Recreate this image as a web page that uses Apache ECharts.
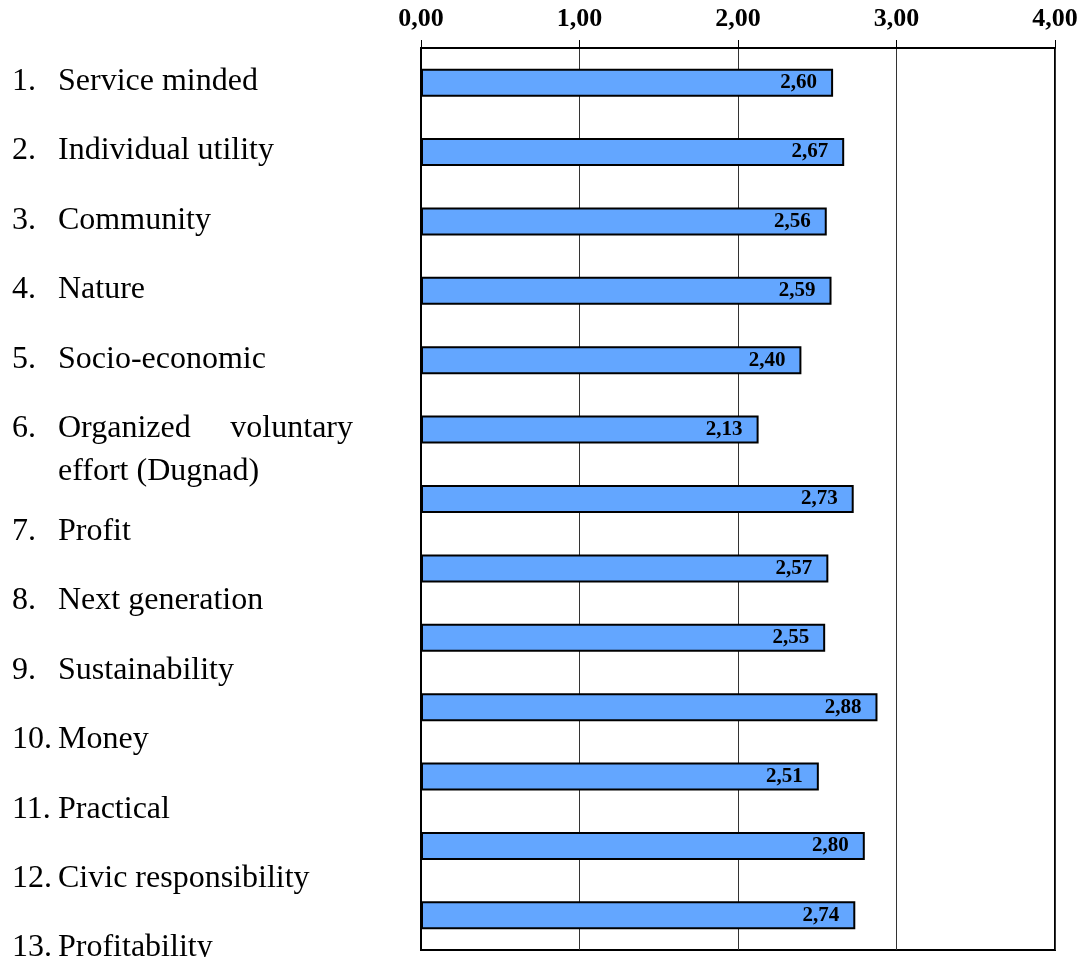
<!DOCTYPE html>
<html>
<head>
<meta charset="utf-8">
<script src="https://cdn.jsdelivr.net/npm/echarts@6/dist/echarts.min.js"></script>
<style>
  html, body { margin: 0; padding: 0; background: #fff; }
  #chart { width: 1081px; height: 957px; }
</style>
</head>
<body>
<div id="chart"></div>
<script>
// Item names, listed in the order they appear
const categories = [
  'Service minded',
  'Individual utility',
  'Community',
  'Nature',
  'Socio-economic',
  'Organized voluntary effort (Dugnad)',
  'Profit',
  'Next generation',
  'Sustainability',
  'Money',
  'Practical',
  'Civic responsibility',
  'Profitability'
];

// Mean score per item
const scores = [2.60, 2.67, 2.56, 2.59, 2.40, 2.13, 2.73, 2.57, 2.55, 2.88, 2.51, 2.80, 2.74];

// Value axis ticks
const axisMin = 0;
const axisMax = 4;
const axisStep = 1;

const fmt = v => v.toFixed(2).replace('.', ',');
const serif = '"Liberation Serif", "Times New Roman", serif';

// Numbered list beside the chart
const listFont = 'normal 32px ' + serif;
const listGraphics = [];
const numX = 12, textX = 58, wrapRight = 353;
const firstLine = 81.5, lineStep = 69.4, innerLine = 43, extraAfterWrap = 33.6;
let wrapped = false;
categories.forEach((name, i) => {
  const y = firstLine + i * lineStep + (wrapped ? extraAfterWrap : 0);
  listGraphics.push({
    type: 'text', x: numX, y: y,
    style: { text: (i + 1) + '.', font: listFont, fill: '#000', verticalAlign: 'middle' }
  });
  const words = name.split(' ');
  if (name.length > 24) {
    // justified first line, remainder on the next line
    listGraphics.push({
      type: 'text', x: textX, y: y,
      style: { text: words[0], font: listFont, fill: '#000', verticalAlign: 'middle' }
    });
    listGraphics.push({
      type: 'text', x: wrapRight, y: y,
      style: { text: words[1], font: listFont, fill: '#000', align: 'right', verticalAlign: 'middle' }
    });
    listGraphics.push({
      type: 'text', x: textX, y: y + innerLine,
      style: { text: words.slice(2).join(' '), font: listFont, fill: '#000', verticalAlign: 'middle' }
    });
    wrapped = true;
  } else {
    listGraphics.push({
      type: 'text', x: textX, y: y,
      style: { text: name, font: listFont, fill: '#000', verticalAlign: 'middle' }
    });
  }
});

const chart = echarts.init(document.getElementById('chart'), null, { renderer: 'canvas' });
chart.setOption({
  animation: false,
  backgroundColor: '#fff',
  grid: {
    left: 421, right: 26, top: 48, bottom: 7,
    show: true, borderColor: '#000', borderWidth: 2, backgroundColor: 'transparent'
  },
  xAxis: {
    type: 'value', position: 'top',
    min: axisMin, max: axisMax, interval: axisStep,
    axisLine: { show: true, lineStyle: { color: '#000', width: 2 } },
    axisTick: { show: true, length: 8, lineStyle: { color: '#000', width: 1 } },
    axisLabel: {
      formatter: v => fmt(v), margin: 16,
      fontFamily: serif, fontWeight: 'bold', fontSize: 26, color: '#000'
    },
    splitLine: { show: true, lineStyle: { color: '#333', width: 1 } }
  },
  yAxis: {
    type: 'category', inverse: true,
    data: categories,
    axisLine: { show: true, lineStyle: { color: '#000', width: 2 } },
    axisTick: { show: false },
    axisLabel: { show: false },
    splitLine: { show: false }
  },
  series: [{
    type: 'bar',
    data: scores,
    barWidth: 28,
    itemStyle: { color: '#63a6ff', borderColor: '#000', borderWidth: 2 },
    label: {
      show: true, position: 'insideRight', distance: 16,
      formatter: p => fmt(p.value),
      fontFamily: serif, fontWeight: 'bold', fontSize: 21, color: '#000'
    }
  }],
  graphic: listGraphics
});
</script>
</body>
</html>
